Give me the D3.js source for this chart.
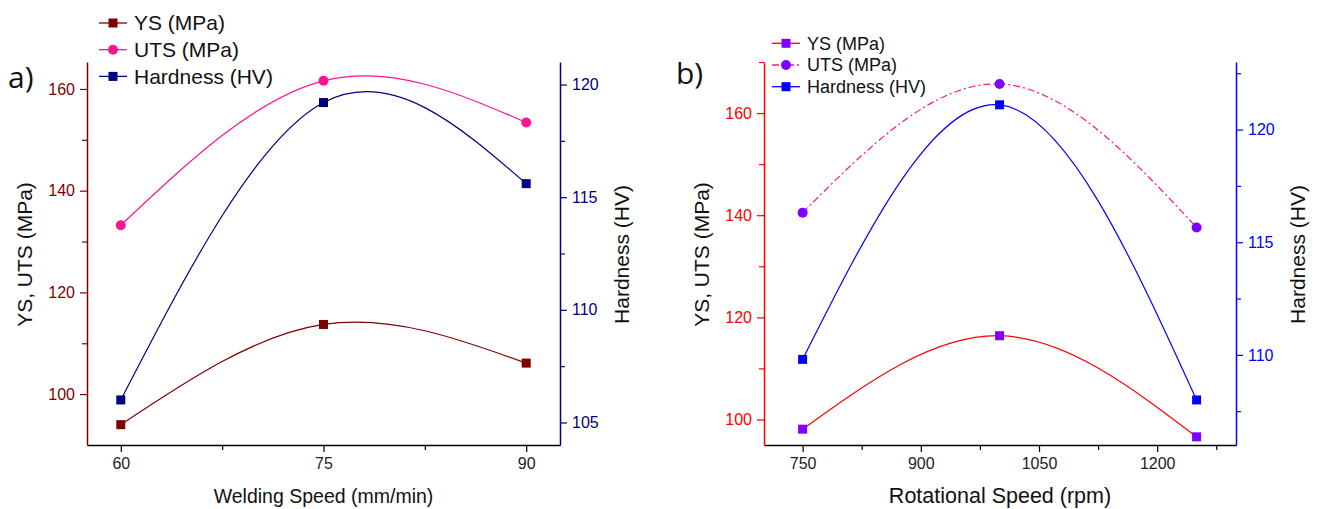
<!DOCTYPE html>
<html>
<head>
<meta charset="utf-8">
<script src="https://cdn.jsdelivr.net/npm/d3@7"></script>
<style>
  body { margin: 0; background: #fff; }
  svg { display: block; font-family: "Liberation Sans", Arial, sans-serif; }
</style>
</head>
<body>
<svg width="1320" height="509"></svg>
<script>
// panel a) welding speed
const speedA = [60, 75, 90];
const ysA = [94.0, 113.7, 106.1];
const utsA = [133.2, 161.6, 153.4];
const hvA = [106.0, 119.2, 115.6];
const xTicksA = [60, 75, 90];
const leftTicksA = [100, 120, 140, 160];
const rightTicksA = [105, 110, 115, 120];

// panel b) rotational speed
const speedB = [750, 1000, 1250];
const ysB = [98.1, 116.4, 96.6];
const utsB = [140.5, 165.7, 137.6];
const hvB = [109.8, 121.1, 108.0];
const xTicksB = [750, 900, 1050, 1200];
const leftTicksB = [100, 120, 140, 160];
const rightTicksB = [110, 115, 120];

const legendLabels = ["YS (MPa)", "UTS (MPa)", "Hardness (HV)"];

const svg = d3.select("svg");

const drawPanel = (cfg) => {
    const x = d3.scaleLinear().domain(cfg.xDomain).range([cfg.left, cfg.right]);
    const yL = d3.scaleLinear().domain(cfg.yLDomain).range([cfg.bottom, cfg.top]);
    const yR = d3.scaleLinear().domain(cfg.yRDomain).range([cfg.bottom, cfg.top]);
    const g = svg.append("g");
    const fmt = d3.format("d");

    const styleAxis = (sel, color) => {
        sel.select(".domain").attr("stroke", color).attr("stroke-width", 1.5);
        sel.selectAll(".tick line").attr("stroke", color).attr("stroke-width", 1.2);
        sel.selectAll(".tick text").attr("fill", color).attr("font-size", 16)
            .attr("font-family", "Liberation Sans, Arial, sans-serif");
    };

    // minor ticks first so the major ones draw on top
    const minor = (axisGen, values, transform, color) => {
        const m = g.append("g").attr("transform", transform)
            .call(axisGen.tickValues(values).tickSize(5).tickFormat(""));
        m.select(".domain").remove();
        m.selectAll(".tick line").attr("stroke", color).attr("stroke-width", 1.2);
    };
    minor(d3.axisBottom(x), cfg.xMinor, `translate(0,${cfg.bottom})`, "#000");
    minor(d3.axisLeft(yL), cfg.yLMinor, `translate(${cfg.left},0)`, cfg.leftColor);
    minor(d3.axisRight(yR), cfg.yRMinor, `translate(${cfg.right},0)`, cfg.rightColor);

    g.append("g").attr("transform", `translate(0,${cfg.bottom})`)
        .call(d3.axisBottom(x).tickValues(cfg.xTicks).tickFormat(fmt).tickSize(7).tickPadding(6).tickSizeOuter(0))
        .call(s => styleAxis(s, "#000"))
        .call(s => s.selectAll(".tick text").attr("fill", "#222"));
    g.append("g").attr("transform", `translate(${cfg.left},0)`)
        .call(d3.axisLeft(yL).tickValues(cfg.yLTicks).tickFormat(fmt).tickSize(7).tickPadding(5).tickSizeOuter(0))
        .call(s => styleAxis(s, cfg.leftColor));
    g.append("g").attr("transform", `translate(${cfg.right},0)`)
        .call(d3.axisRight(yR).tickValues(cfg.yRTicks).tickFormat(fmt).tickSize(7).tickPadding(5).tickSizeOuter(0))
        .call(s => styleAxis(s, cfg.rightColor));

    // axis titles
    g.append("text").attr("x", (cfg.left + cfg.right) / 2).attr("y", 503)
        .attr("text-anchor", "middle").attr("font-size", cfg.xTitleSize).attr("fill", "#111")
        .text(cfg.xTitle);
    g.append("text").attr("transform", `translate(${cfg.left - 55},${(cfg.top + cfg.bottom) / 2 + 1}) rotate(-90)`)
        .attr("text-anchor", "middle").attr("font-size", 21).attr("fill", "#111")
        .text("YS, UTS (MPa)");
    g.append("text").attr("transform", `translate(${cfg.right + 69},${(cfg.top + cfg.bottom) / 2 + 1}) rotate(-90)`)
        .attr("text-anchor", "middle").attr("font-size", 21).attr("fill", "#111")
        .text("Hardness (HV)");

    // panel letter
    g.append("text").attr("x", cfg.letterX).attr("y", cfg.letterY)
        .attr("font-family", "Open Sans, sans-serif").attr("font-size", 30).attr("fill", "#111")
        .text(cfg.letter);

    const line = (scale) => d3.line().x((d, i) => x(cfg.speed[i])).y(d => scale(d)).curve(d3.curveNatural);

    cfg.series.forEach(s => {
        const scale = s.axis === "right" ? yR : yL;
        g.append("path").datum(s.values)
            .attr("fill", "none").attr("stroke", s.line).attr("stroke-width", 1.2)
            .attr("stroke-dasharray", s.dash || null)
            .attr("d", line(scale));
        const pts = g.append("g").selectAll("g").data(s.values).join("g")
            .attr("transform", (d, i) => `translate(${x(cfg.speed[i])},${scale(d)})`);
        if (s.shape === "circle") {
            pts.append("circle").attr("r", 5).attr("fill", s.marker);
        } else {
            pts.append("rect").attr("x", -4.5).attr("y", -4.5).attr("width", 9).attr("height", 9).attr("fill", s.marker);
        }
    });

    // legend
    const lg = g.append("g").attr("transform", `translate(${cfg.legendX},${cfg.legendY})`);
    cfg.series.forEach((s, i) => {
        const row = lg.append("g").attr("transform", `translate(0,${i * cfg.legendStep})`);
        row.append("line").attr("x1", 0).attr("x2", 28).attr("stroke", s.line).attr("stroke-width", 1.3)
            .attr("stroke-dasharray", s.dash || null);
        if (s.shape === "circle") {
            row.append("circle").attr("cx", 14).attr("r", 5).attr("fill", s.marker);
        } else {
            row.append("rect").attr("x", 9.5).attr("y", -4.5).attr("width", 9).attr("height", 9).attr("fill", s.marker);
        }
        row.append("text").attr("x", 35).attr("dy", "0.35em").attr("font-size", cfg.legendSize)
            .attr("fill", "#111").text(legendLabels[i]);
    });
};

drawPanel({
    left: 87, right: 560, top: 62, bottom: 445,
    xDomain: [57.5, 92.5], yLDomain: [90, 165.3], yRDomain: [104, 121],
    xTicks: xTicksA, xMinor: [67.5, 82.5],
    yLTicks: leftTicksA, yLMinor: [110, 130, 150],
    yRTicks: rightTicksA, yRMinor: [107.5, 112.5, 117.5],
    leftColor: "#800000", rightColor: "#000080",
    xTitle: "Welding Speed (mm/min)", xTitleSize: 19.5,
    letter: "a)", letterX: 8, letterY: 88,
    speed: speedA,
    series: [
        { values: ysA, axis: "left", line: "#800000", marker: "#800000", shape: "rect" },
        { values: utsA, axis: "left", line: "#ff1493", marker: "#ff1493", shape: "circle" },
        { values: hvA, axis: "right", line: "#000080", marker: "#000080", shape: "rect" }
    ],
    legendX: 99, legendY: 23, legendStep: 26.7, legendSize: 21
});

drawPanel({
    left: 764, right: 1236, top: 62, bottom: 445,
    xDomain: [701, 1300], yLDomain: [95, 170], yRDomain: [106, 123],
    xTicks: xTicksB, xMinor: [825, 975, 1125, 1275],
    yLTicks: leftTicksB, yLMinor: [110, 130, 150, 170],
    yRTicks: rightTicksB, yRMinor: [107.5, 112.5, 117.5, 122.5],
    leftColor: "#ff0000", rightColor: "#0000ff",
    xTitle: "Rotational Speed (rpm)", xTitleSize: 21.5,
    letter: "b)", letterX: 676, letterY: 84,
    speed: speedB,
    series: [
        { values: ysB, axis: "left", line: "#ff0000", marker: "#8000ff", shape: "rect" },
        { values: utsB, axis: "left", line: "#ff1493", marker: "#8000ff", shape: "circle", dash: "7,3,2,3" },
        { values: hvB, axis: "right", line: "#0000ff", marker: "#0000ff", shape: "rect" }
    ],
    legendX: 772, legendY: 43.3, legendStep: 21.7, legendSize: 18
});
</script>
</body>
</html>
